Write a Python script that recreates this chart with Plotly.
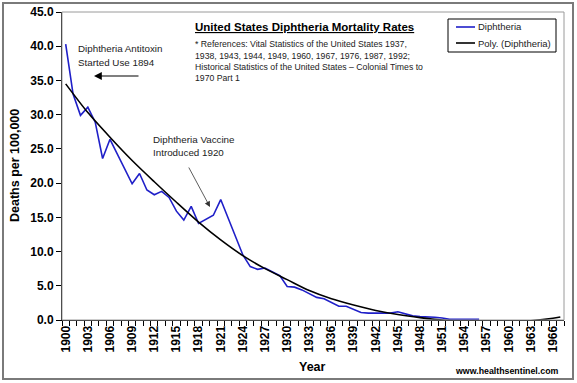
import plotly.graph_objects as go

# ---------------- data ----------------
years = list(range(1900, 1957))
diphtheria = [40.3, 33.0, 29.9, 31.1, 28.9, 23.6, 26.4, 24.2, 22.2, 19.9,
              21.4, 19.0, 18.3, 18.8, 17.9, 15.9, 14.6, 16.6, 14.1, 14.7,
              15.3, 17.6, 14.9, 12.2, 9.5, 7.8, 7.4, 7.6, 7.0, 6.5,
              4.9, 4.8, 4.4, 3.9, 3.3, 3.1, 2.5, 2.0, 2.0, 1.5,
              1.1, 1.0, 1.0, 1.0, 1.0, 1.2, 0.9, 0.6, 0.5, 0.5,
              0.4, 0.3, 0.1, 0.1, 0.1, 0.1, 0.1]

trend_years = [1900, 1903, 1906, 1909, 1912, 1915, 1918, 1921, 1924, 1927,
               1930, 1933, 1936, 1939, 1942, 1945, 1948, 1951, 1954, 1957,
               1960, 1963, 1966, 1967]
trend_values = [34.5, 30.3, 26.7, 23.3, 20.2, 17.2, 14.3, 11.7, 9.4, 7.5,
                5.9, 4.3, 3.1, 2.2, 1.4, 0.8, 0.35, 0.0, -0.2, -0.3,
                -0.25, -0.1, 0.25, 0.45]

tick_years = list(range(1900, 1967, 3))
y_ticks = [0, 5, 10, 15, 20, 25, 30, 35, 40, 45]

# ---------------- layout geometry (pixels) ----------------
FW, FH = 577, 383
L, R, T, B = 62, 564, 12, 320
W, H = R - L, B - T


def px(x):
    return (x - L) / W


def py(y):
    return (B - y) / H


BLUE = "#1f1fc8"
FONT = "Liberation Sans, Arial, sans-serif"

fig = go.Figure()
fig.add_trace(go.Scatter(x=years, y=diphtheria, mode="lines",
                         line=dict(color=BLUE, width=1.6), name="Diphtheria",
                         showlegend=False))
fig.add_trace(go.Scatter(x=trend_years, y=trend_values, mode="lines",
                         line=dict(color="black", width=1.6, shape="spline",
                                   smoothing=0.8),
                         name="Poly. (Diphtheria)", showlegend=False))

shapes = [
    # outer chart border
    dict(type="rect", xref="paper", yref="paper", x0=px(3), x1=px(573),
         y0=py(379), y1=py(3), line=dict(color="#7a7a7a", width=2)),
    # plot area border
    dict(type="rect", xref="paper", yref="paper", x0=0, x1=1, y0=0, y1=1,
         line=dict(color="#9a9a9a", width=1)),
    # legend box
    dict(type="rect", xref="paper", yref="paper", x0=px(448), x1=px(556),
         y0=py(52), y1=py(19), line=dict(color="black", width=1),
         fillcolor="white"),
    dict(type="line", xref="paper", yref="paper", x0=px(456), x1=px(475),
         y0=py(27), y1=py(27), line=dict(color=BLUE, width=1.6)),
    dict(type="line", xref="paper", yref="paper", x0=px(456), x1=px(475),
         y0=py(43), y1=py(43), line=dict(color="black", width=1.6)),
]

annotations = []


def txt(x, y, s, size, bold=False, color="#222", xanchor="left", angle=0):
    annotations.append(dict(
        x=px(x), y=py(y), xref="paper", yref="paper", text=s,
        showarrow=False, xanchor=xanchor, yanchor="middle", textangle=angle,
        font=dict(family=FONT, size=size, color=color)))


txt(193, 27, "<b><u>United States Diphtheria Mortality Rates</u></b>", 11.5, color="black")
txt(193, 44, "* References: Vital Statistics of the United States 1937,", 8.7)
txt(193, 56, "1938, 1943, 1944, 1949, 1960, 1967, 1976, 1987, 1992;", 8.7)
txt(193, 67, "Historical Statistics of the United States \u2013 Colonial Times to", 8.7)
txt(193, 78, "1970 Part 1", 8.7)

txt(476, 27, "Diphtheria", 9.5)
txt(476, 43, "Poly. (Diphtheria)", 9.5)

txt(76, 49, "Diphtheria Antitoxin", 9.8)
txt(76, 62, "Started Use 1894", 9.8)
txt(151, 139, "Diphtheria Vaccine", 9.8)
txt(151, 152, "Introduced 1920", 9.8)

txt(312, 367, "<b>Year</b>", 12.5, color="black", xanchor="center")
txt(15, 166, "<b>Deaths per 100,000</b>", 12.5, color="black", xanchor="center", angle=-90)
txt(561, 371, "<b>www.healthsentinel.com</b>", 8.8, color="black", xanchor="right")

# arrows
annotations.append(dict(x=px(94), y=py(76), xref="paper", yref="paper",
                        ax=46, ay=0, axref="pixel", ayref="pixel", text="",
                        showarrow=True, arrowhead=2, arrowsize=1.3,
                        arrowwidth=1.2, arrowcolor="black"))
annotations.append(dict(x=px(210), y=py(207), xref="paper", yref="paper",
                        ax=-22, ay=-41, axref="pixel", ayref="pixel", text="",
                        showarrow=True, arrowhead=2, arrowsize=1.4,
                        arrowwidth=0.8, arrowcolor="#333"))

fig.update_layout(
    width=FW, height=FH,
    margin=dict(l=L, r=FW - R, t=T, b=FH - B, pad=0, autoexpand=False),
    paper_bgcolor="white", plot_bgcolor="white",
    shapes=shapes, annotations=annotations, showlegend=False,
    font=dict(family=FONT, color="black"),
)
fig.update_xaxes(
    range=[1899.5, 1967.5], tickmode="array", tickvals=tick_years,
    ticktext=[f"<b>{y}</b>" for y in tick_years], tickangle=-90, ticks="",
    tickfont=dict(size=12, family="Liberation Sans, Arial", color="black"),
    showgrid=False, zeroline=False, showline=True, linecolor="black",
    linewidth=1, automargin=False,
    minor=dict(tickmode="linear", tick0=1899.5, dtick=1, ticks="outside",
               ticklen=5, tickcolor="black", showgrid=False),
)
fig.update_yaxes(
    range=[0, 45], tickmode="array", tickvals=y_ticks,
    ticktext=[f"<b>{v:.1f}</b>" for v in y_ticks], ticks="outside", ticklen=5,
    tickcolor="black", automargin=False,
    tickfont=dict(size=12, family="Liberation Sans, Arial", color="black"),
    showgrid=False, zeroline=False, showline=True, linecolor="black",
    linewidth=1,
)

fig.write_html("out.html",
               config={"displayModeBar": False},
               post_script="document.body.style.margin='0px';"
                           "document.body.style.overflow='hidden';")
